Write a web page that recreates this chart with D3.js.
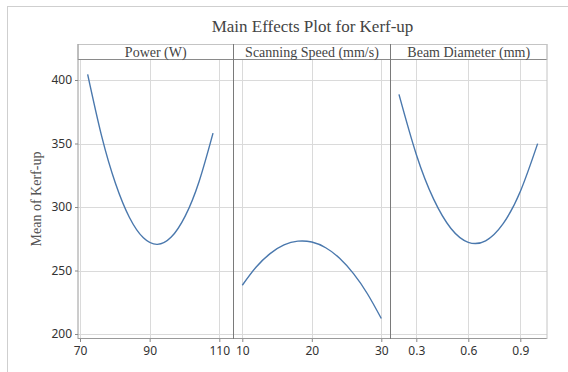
<!DOCTYPE html>
<html>
<head>
<meta charset="utf-8">
<script src="https://cdn.jsdelivr.net/npm/d3@7"></script>
<style>
  body { margin: 0; background: #fff; }
  .tick text { font-family: "Noto Sans", sans-serif; font-size: 12px; fill: #333; }
</style>
</head>
<body>
<script>
// values
const powerX = [72.2, 76.2, 80.2, 84.2, 88.2, 92.2, 96.2, 100.2, 104.2, 108.2]
const powerY = [404.5, 356.0, 318.5, 291.7, 275.7, 270.6, 276.3, 292.8, 320.1, 358.2]

const speedX = [10, 12, 14, 16, 18, 20, 22, 24, 26, 28, 30]
const speedY = [238.4, 252.8, 263.3, 270.1, 273.1, 272.4, 267.9, 259.6, 247.5, 231.7, 212.2]

const beamX = [0.2, 0.3, 0.4, 0.5, 0.6, 0.7, 0.8, 0.9, 1.0]
const beamY = [388.7, 341.4, 306.2, 283.1, 272.2, 273.4, 286.7, 312.2, 349.9]

const yTicks = [200, 250, 300, 350, 400]
const powerTicks = [70, 90, 110]
const speedTicks = [10, 20, 30]
const beamTicks = [0.3, 0.6, 0.9]

const title = 'Main Effects Plot for Kerf-up'
const yTitle = 'Mean of Kerf-up'

function main () {
  const w = 568
  const h = 372
  const top = 59.5
  const bottom = 338
  const stripTop = 44

  const svg = d3.select('body')
    .append('svg')
    .attr('width', w)
    .attr('height', h)

  // outer frame of the graph window
  svg.append('rect')
    .attr('x', 7.5)
    .attr('y', 6.5)
    .attr('width', w)
    .attr('height', h)
    .attr('fill', 'none')
    .attr('stroke', '#cfcfcf')

  const yScale = d3.scaleLinear()
    .domain([200, 400])
    .range([334, 80])

  const panels = [
    { name: 'Power (W)', xs: powerX, ys: powerY, ticks: powerTicks, left: 78, right: 233.5,
      scale: d3.scaleLinear().domain([70, 110]).range([80, 219.3]), fmt: d3.format('d') },
    { name: 'Scanning Speed (mm/s)', xs: speedX, ys: speedY, ticks: speedTicks, left: 233.5, right: 390.5,
      scale: d3.scaleLinear().domain([10, 30]).range([242.3, 381.3]), fmt: d3.format('d') },
    { name: 'Beam Diameter (mm)', xs: beamX, ys: beamY, ticks: beamTicks, left: 390.5, right: 547,
      scale: d3.scaleLinear().domain([0.3, 0.9]).range([416.3, 520.3]), fmt: d3.format('.1f') }
  ]

  panels.forEach((p, i) => {
    const g = svg.append('g')

    // grid
    g.selectAll('.hgrid')
      .data(yTicks)
      .enter()
      .append('line')
      .attr('x1', p.left)
      .attr('x2', p.right)
      .attr('y1', (d) => Math.round(yScale(d)) + 0.5)
      .attr('y2', (d) => Math.round(yScale(d)) + 0.5)
      .attr('stroke', '#dadada')

    g.selectAll('.vgrid')
      .data(p.ticks)
      .enter()
      .append('line')
      .attr('x1', (d) => Math.round(p.scale(d)) + 0.5)
      .attr('x2', (d) => Math.round(p.scale(d)) + 0.5)
      .attr('y1', top)
      .attr('y2', bottom)
      .attr('stroke', '#dadada')

    // strip header
    g.append('rect')
      .attr('x', p.left)
      .attr('y', stripTop + 0.5)
      .attr('width', p.right - p.left)
      .attr('height', top - stripTop - 0.5)
      .attr('fill', '#fff')
      .attr('stroke', '#c4c4c4')

    g.append('line')
      .attr('x1', p.left)
      .attr('x2', p.right)
      .attr('y1', top)
      .attr('y2', top)
      .attr('stroke', '#8a8a8a')

    g.append('text')
      .text(p.name)
      .attr('x', (p.left + p.right) / 2)
      .attr('y', 57)
      .attr('text-anchor', 'middle')
      .style('font-family', '"Liberation Serif", serif')
      .style('font-size', '14px')
      .style('fill', '#444')

    // the curve
    const line = d3.line()
      .x((d) => p.scale(d[0]))
      .y((d) => yScale(d[1]))
      .curve(d3.curveNatural)

    g.append('path')
      .datum(d3.zip(p.xs, p.ys))
      .attr('d', line)
      .attr('fill', 'none')
      .attr('stroke', '#4a78ad')
      .attr('stroke-width', 1.4)

    // x axis
    const xAxis = d3.axisBottom(p.scale)
      .tickValues(p.ticks)
      .tickFormat(p.fmt)
      .tickSize(4)
      .tickPadding(4)

    const ax = g.append('g')
      .attr('transform', `translate(0, ${bottom})`)
      .call(xAxis)
    ax.select('.domain').remove()
    ax.selectAll('.tick line').attr('stroke', '#888')

    g.append('line')
      .attr('x1', p.left)
      .attr('x2', p.right)
      .attr('y1', bottom + 0.5)
      .attr('y2', bottom + 0.5)
      .attr('stroke', '#9a9a9a')

    // panel side lines
    g.append('line')
      .attr('x1', p.left)
      .attr('x2', p.left)
      .attr('y1', stripTop)
      .attr('y2', bottom + 1)
      .attr('stroke', i === 0 ? '#9a9a9a' : '#7a7a7a')
  })

  svg.append('line')
    .attr('x1', 547)
    .attr('x2', 547)
    .attr('y1', stripTop)
    .attr('y2', bottom + 1)
    .attr('stroke', '#c4c4c4')

  // y axis
  const yAxis = d3.axisLeft(yScale)
    .tickValues(yTicks)
    .tickSize(3)
    .tickPadding(3)

  const ay = svg.append('g')
    .attr('transform', 'translate(78, 0)')
    .call(yAxis)
  ay.select('.domain').remove()
  ay.selectAll('.tick line').attr('stroke', '#888')

  svg.append('text')
    .text(title)
    .attr('x', 312.5)
    .attr('y', 32)
    .attr('text-anchor', 'middle')
    .style('font-family', '"Liberation Serif", serif')
    .style('font-size', '17px')
    .style('fill', '#444')

  svg.append('text')
    .text(yTitle)
    .attr('transform', 'translate(41, 199) rotate(-90)')
    .attr('text-anchor', 'middle')
    .style('font-family', '"Liberation Serif", serif')
    .style('font-size', '14px')
    .style('fill', '#555')
}

main()
</script>
</body>
</html>
